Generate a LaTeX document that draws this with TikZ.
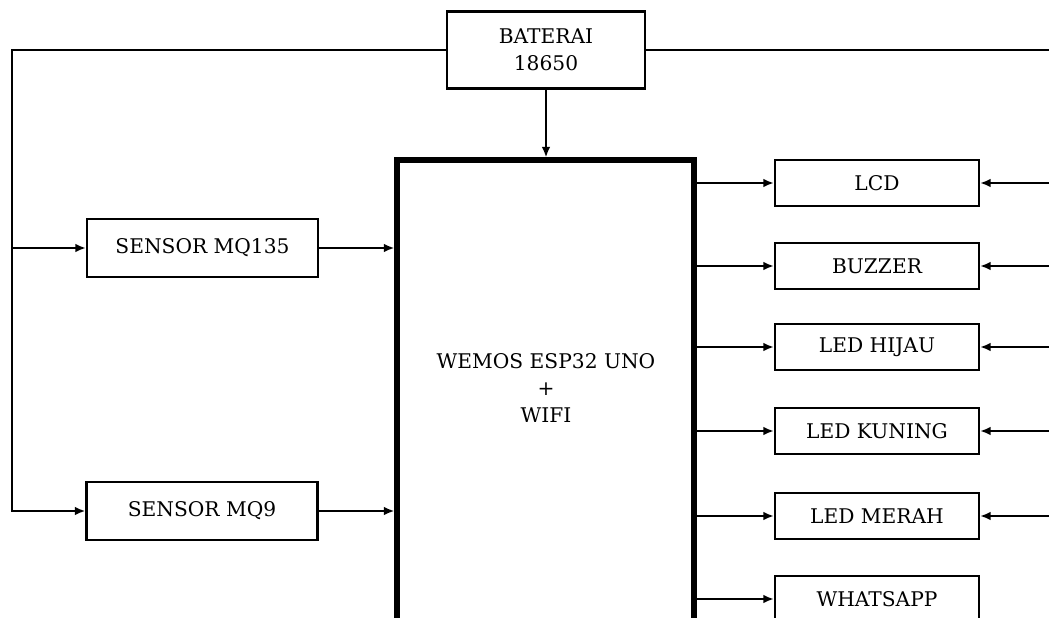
\documentclass[tikz,border=0pt]{standalone}
\usepackage{fontspec}
\setmainfont{DejaVu Serif}
\usetikzlibrary{arrows.meta, positioning}

\begin{document}
\begin{tikzpicture}[x=0.02cm, y=-0.02cm,
  blok/.style={draw, line width=1.3pt, inner sep=0pt, font=\fontsize{11.5}{15.4}\selectfont},
  sensor/.style={blok, minimum width=4.62cm, minimum height=1.16cm},
  output/.style={blok, minimum width=4.08cm, minimum height=0.92cm},
  wire/.style={line width=1.3pt},
  arr/.style={wire, -{Latex[length=6pt, width=5pt]}}]
\useasboundingbox (0,0) rectangle (1049,618);
\clip (0,0) rectangle (1049,618);
% power supply and controller
\node[blok, minimum width=3.96cm, minimum height=1.54cm, align=center] (bat) at (546,50) {BATERAI\\18650};
\node[draw, line width=3pt, minimum width=5.94cm, minimum height=10.4cm] (esp) at (545.5,420) {};
\node[align=center, font=\fontsize{11.5}{15.4}\selectfont] (esplbl) at (546,388) {WEMOS ESP32 UNO\\+\\WIFI};
% sensors
\node[sensor] (mq135) at (202.5,248) {SENSOR MQ135};
\node[sensor] (mq9) at (202,511) {SENSOR MQ9};
% outputs
\node[output] (lcd) at (877,183) {LCD};
\node[output] (buzzer) at (877,266) {BUZZER};
\node[output] (hijau) at (877,347) {LED HIJAU};
\node[output] (kuning) at (877,431) {LED KUNING};
\node[output] (merah) at (877,516) {LED MERAH};
\node[output] (wa) at (877,599) {WHATSAPP};
\coordinate (rail) at (12,50);
\coordinate (edge) at (1060,50);
% power lines
\draw[arr] (bat.south) -- (bat.south |- esp.north);
\draw[wire] (bat.east) -- (edge);
\draw[arr] (bat.west) -- (rail) |- (mq9.west);
\draw[arr] (rail |- mq135) -- (mq135.west);
\draw[arr] (edge |- lcd) -- (lcd.east);
\draw[arr] (edge |- buzzer) -- (buzzer.east);
\draw[arr] (edge |- hijau) -- (hijau.east);
\draw[arr] (edge |- kuning) -- (kuning.east);
\draw[arr] (edge |- merah) -- (merah.east);
% signal lines
\draw[arr] (mq135.east) -- (mq135 -| esp.west);
\draw[arr] (mq9.east) -- (mq9 -| esp.west);
\draw[arr] (esp.east |- lcd) -- (lcd.west);
\draw[arr] (esp.east |- buzzer) -- (buzzer.west);
\draw[arr] (esp.east |- hijau) -- (hijau.west);
\draw[arr] (esp.east |- kuning) -- (kuning.west);
\draw[arr] (esp.east |- merah) -- (merah.west);
\draw[arr] (esp.east |- wa) -- (wa.west);
\end{tikzpicture}
\end{document}
